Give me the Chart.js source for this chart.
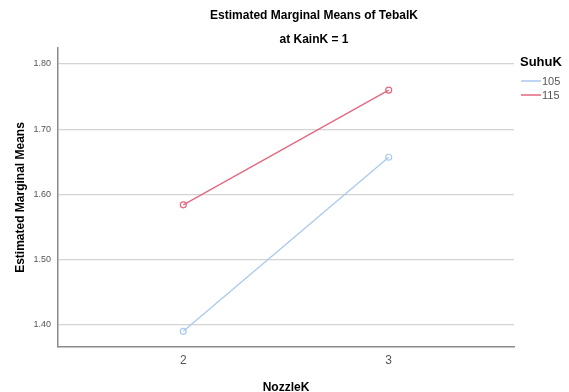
<!DOCTYPE html>
<html>
<head>
<meta charset="utf-8">
<script src="https://cdn.jsdelivr.net/npm/chart.js@4.4.1/dist/chart.umd.min.js"></script>
<style>
  html, body { margin: 0; padding: 0; background: #fff; }
  #wrap { width: 569px; height: 392px; position: relative; }
</style>
</head>
<body>
<div id="wrap"><canvas id="emmChart"></canvas></div>
<script>
// data
const nozzleLevels = [2, 3];
const suhuLabels = ["105", "115"];
const means105 = [1.390, 1.657];
const means115 = [1.584, 1.760];
const yTicks = [1.4, 1.5, 1.6, 1.7, 1.8];

const titleText = "Estimated Marginal Means of TebalK";
const subtitleText = "at KainK = 1";
const legendTitle = "SuhuK";
const colors = ["#a9c9ef", "#e4677f"];

const fontFamily = "'Liberation Sans', Arial, sans-serif";

// titles + legend drawn by hand so they sit where SPSS puts them
const headerPlugin = {
  id: "header",
  afterDraw(chart) {
    const ctx = chart.ctx;
    ctx.save();
    ctx.fillStyle = "#000";
    ctx.textAlign = "center";
    ctx.textBaseline = "middle";
    ctx.font = "bold 12px " + fontFamily;
    ctx.fillText(titleText, 314, 16);
    ctx.fillText(subtitleText, 314, 40);

    ctx.textAlign = "left";
    ctx.font = "bold 13px " + fontFamily;
    ctx.fillText(legendTitle, 520, 62);
    ctx.font = "11px " + fontFamily;
    chart.data.datasets.forEach((ds, i) => {
      const y = 81 + i * 14;
      ctx.strokeStyle = ds.borderColor;
      ctx.lineWidth = 1.5;
      ctx.beginPath();
      ctx.moveTo(521, y);
      ctx.lineTo(541, y);
      ctx.stroke();
      ctx.fillStyle = "#555";
      ctx.fillText(ds.label, 542, y + 1);
    });
    ctx.restore();
  },
};

new Chart(document.getElementById("emmChart"), {
  type: "line",
  data: {
    datasets: [
      {
        label: suhuLabels[0],
        data: nozzleLevels.map((x, i) => ({ x: x, y: means105[i] })),
        borderColor: colors[0],
        backgroundColor: "rgba(0,0,0,0)",
        borderWidth: 1.3,
        pointRadius: 3,
        pointBorderWidth: 1.2,
        pointBorderColor: colors[0],
        pointBackgroundColor: "rgba(0,0,0,0)",
      },
      {
        label: suhuLabels[1],
        data: nozzleLevels.map((x, i) => ({ x: x, y: means115[i] })),
        borderColor: colors[1],
        backgroundColor: "rgba(0,0,0,0)",
        borderWidth: 1.3,
        pointRadius: 3,
        pointBorderWidth: 1.2,
        pointBorderColor: colors[1],
        pointBackgroundColor: "rgba(0,0,0,0)",
      },
    ],
  },
  options: {
    responsive: true,
    maintainAspectRatio: false,
    animation: false,
    layout: { padding: { top: 48, right: 55, left: 0, bottom: 0 } },
    plugins: {
      legend: { display: false },
      tooltip: { enabled: false },
    },
    scales: {
      x: {
        type: "linear",
        min: 1.39,
        max: 3.61,
        afterBuildTicks: (axis) => {
          axis.ticks = nozzleLevels.map((v) => ({ value: v }));
        },
        afterFit: (axis) => {
          axis.height = 45;
        },
        grid: { display: false, drawTicks: false },
        border: { color: "#8a8a8a", width: 1.5 },
        ticks: {
          color: "#555",
          padding: 6,
          font: { family: fontFamily, size: 12 },
          callback: (v) => String(v),
        },
        title: {
          display: true,
          text: "NozzleK",
          color: "#000",
          padding: { top: 11, bottom: -3 },
          font: { family: fontFamily, size: 12, weight: "bold" },
        },
      },
      y: {
        min: 1.366,
        max: 1.8245,
        afterBuildTicks: (axis) => {
          axis.ticks = yTicks.map((v) => ({ value: v }));
        },
        afterFit: (axis) => {
          axis.width = 58;
        },
        grid: { color: "#d4d4d4", lineWidth: 1.2, drawTicks: false },
        border: { color: "#8a8a8a", width: 1.5 },
        ticks: {
          color: "#555",
          padding: 7,
          font: { family: fontFamily, size: 9 },
          callback: (v) => v.toFixed(2),
        },
        title: {
          display: true,
          text: "Estimated Marginal Means",
          color: "#000",
          padding: { top: 13, bottom: 0 },
          font: { family: fontFamily, size: 12, weight: "bold" },
        },
      },
    },
  },
  plugins: [headerPlugin],
});
</script>
</body>
</html>
